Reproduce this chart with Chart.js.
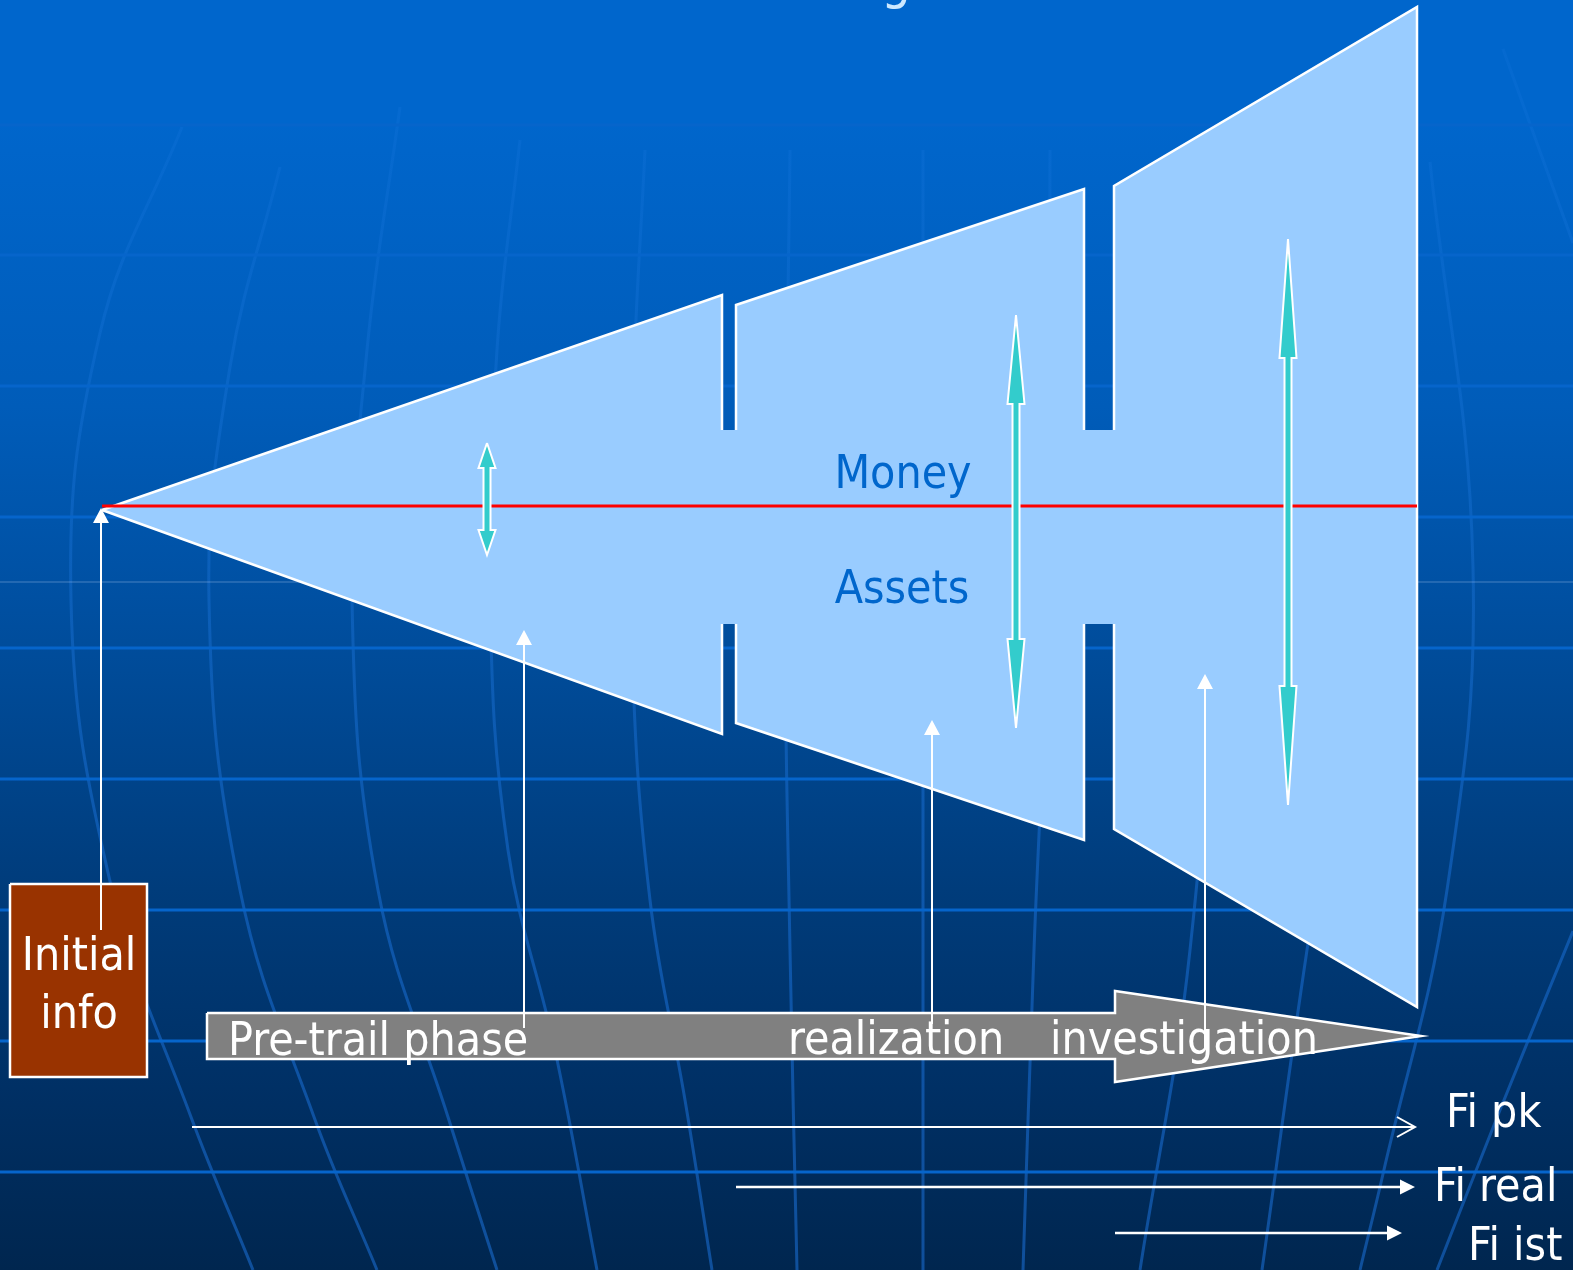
<!DOCTYPE html>
<html><head><meta charset="utf-8">
<script src="https://cdn.jsdelivr.net/npm/chart.js@4/dist/chart.umd.min.js"></script>
<style>html,body{margin:0;padding:0;background:#003366;overflow:hidden}canvas{display:block}</style>
</head><body><canvas id="c" width="1573" height="1270"></canvas>
<script>
// ===== diagram data (diagram units: 0..1573 across, 0..1270 down) =====
const stageNames   = ['Pre-trail phase', 'realization', 'investigation'];
const stageLeftX   = [102, 736, 1114];
const stageRightX  = [722, 1084, 1417];
const stageTopL    = [510, 305, 186];
const stageTopR    = [295, 189, 7];
const stageBotL    = [510, 723, 829];
const stageBotR    = [734, 840, 1007];
const neckY        = [430, 624];
const midLineY     = [506];
const funnelLabels = ['Money', 'Assets'];

const spreadX      = [487, 1016, 1288];
const spreadTop    = [443, 315, 239];
const spreadBottom = [555, 728, 805];
const spreadHead   = [25, 89, 119];

const linkX        = [101, 524, 932, 1205];
const linkFrom     = [930, 1028, 1024, 1048];
const linkTo       = [508, 630, 720, 674];

const reachNames   = ['Fi pk', 'Fi real', 'Fi ist'];
const reachFrom    = [192, 736, 1115];
const reachTo      = [1415, 1415, 1402];
const reachY       = [1127, 1187, 1233];
const reachHead    = ['open', 'filled', 'filled'];

const startLabel   = ['Initial', 'info'];
const startBoxX    = [10, 147];
const startBoxY    = [884, 1077];

const phaseBodyX   = [207, 1115];
const phaseBodyY   = [1013, 1059];
const phaseHeadY   = [991, 1082];
const phaseTip     = [1421, 1036];

const gridRows     = [125, 255, 386, 517, 648, 779, 910, 1041, 1172];
const globeMeridians = [
  [[182,127],[100,333],[71,600],[112,890],[191,1117],[253,1270]],
  [[280,167],[230,367],[209,600],[240,890],[314,1117],[377,1270]],
  [[400,107],[367,350],[352,600],[378,890],[448,1117],[497,1270]],
  [[520,140],[497,350],[490,600],[508,850],[555,1050],[597,1270]],
  [[645,150],[633,400],[632,650],[650,900],[685,1100],[712,1270]],
  [[790,150],[785,600],[790,950],[797,1270]],
  [[923,150],[923,600],[923,950],[923,1270]],
  [[1050,150],[1048,600],[1034,950],[1023,1270]],
  [[1200,150],[1212,600],[1190,950],[1140,1270]],
  [[1330,150],[1362,600],[1307,950],[1262,1270]],
  [[1430,162],[1473,567],[1447,890],[1383,1174],[1360,1270]],
  [[1573,931],[1500,1110],[1437,1270]],
  [[1503,49],[1573,243]]
];

// ===== build datasets =====
const FONT = "'DejaVu Sans Condensed','DejaVu Sans',sans-serif";
const P = a => a.map(([x, y]) => ({x, y}));
const datasets = [];
function add(ds, order) {
  datasets.push(Object.assign({pointRadius: 0, pointHoverRadius: 0, fill: false, tension: 0,
    borderWidth: 0, borderColor: 'rgba(0,0,0,0)', clip: false, order,
    borderJoinStyle: 'miter', borderCapStyle: 'butt'}, ds));
}

// meridian stroke: fainter at the top, clearer lower down
function meridianColor(c) {
  const chart = c.chart, ys = chart.scales && chart.scales.y;
  let y0 = ys ? ys.getPixelForValue(0) : NaN, y1 = ys ? ys.getPixelForValue(1270) : NaN;
  if (!isFinite(y0) || !isFinite(y1)) { y0 = 0; y1 = chart.height || 1270; }
  const g = chart.ctx.createLinearGradient(0, y0, 0, y1);
  g.addColorStop(0, 'rgba(40,130,235,0.10)');
  g.addColorStop(0.35, 'rgba(40,130,235,0.25)');
  g.addColorStop(0.7, 'rgba(30,120,230,0.45)');
  g.addColorStop(1, 'rgba(30,120,230,0.50)');
  return g;
}
globeMeridians.forEach(m => add({data: P(m), borderColor: meridianColor, borderWidth: 3, tension: 0.4}, 100));
// horizontal grid rows
gridRows.forEach(y => add({data: P([[0, y], [1573, y]]), borderColor: '#0665cb', borderWidth: 3}, 95));
add({data: P([[0, 582], [1573, 582]]), borderColor: 'rgba(200,220,255,0.35)', borderWidth: 1}, 94);

// funnel outline
const upperEdge = [], lowerEdge = [];
for (let i = 0; i < 3; i++) {
  upperEdge.push([stageLeftX[i], stageTopL[i]], [stageRightX[i], stageTopR[i]]);
  lowerEdge.push([stageLeftX[i], stageBotL[i]], [stageRightX[i], stageBotR[i]]);
  if (i < 2) {
    upperEdge.push([stageRightX[i], neckY[0]], [stageLeftX[i + 1], neckY[0]]);
    lowerEdge.push([stageRightX[i], neckY[1]], [stageLeftX[i + 1], neckY[1]]);
  }
}
const outline = upperEdge.concat(lowerEdge.slice().reverse());
// fill (one piece)
add({data: P(outline), fill: 'shape', backgroundColor: '#99ccff'}, 81);
// white border, skipping the horizontal neck edges
add({data: P(outline), borderWidth: 2.5, borderColor: '#ffffff',
  segment: {borderColor: c => Math.abs(c.p0.y - c.p1.y) < 0.5 ? 'rgba(0,0,0,0)' : '#ffffff'}}, 80);
// red middle line
add({data: P([[stageLeftX[0], midLineY[0]], [stageRightX[2], midLineY[0]]]), borderColor: '#ff0000', borderWidth: 3}, 70);

// double teal arrows
spreadX.forEach((x, i) => {
  const t = spreadTop[i], b = spreadBottom[i], hl = spreadHead[i], hh = 8.5, sh = 3.5;
  add({data: P([[x, t], [x + hh, t + hl], [x + sh, t + hl], [x + sh, b - hl], [x + hh, b - hl], [x, b],
    [x - hh, b - hl], [x - sh, b - hl], [x - sh, t + hl], [x - hh, t + hl], [x, t]]),
    fill: 'shape', backgroundColor: '#33cccc', borderColor: '#ffffff', borderWidth: 2}, 60);
});

// phase arrow
add({data: P([[phaseBodyX[0], phaseBodyY[0]], [phaseBodyX[1], phaseBodyY[0]], [phaseBodyX[1], phaseHeadY[0]],
  [phaseTip[0], phaseTip[1]], [phaseBodyX[1], phaseHeadY[1]], [phaseBodyX[1], phaseBodyY[1]],
  [phaseBodyX[0], phaseBodyY[1]], [phaseBodyX[0], phaseBodyY[0]]]),
  fill: 'shape', backgroundColor: '#808080', borderColor: '#ffffff', borderWidth: 2.5}, 50);
// initial info box
add({data: P([[startBoxX[0], startBoxY[0]], [startBoxX[1], startBoxY[0]], [startBoxX[1], startBoxY[1]],
  [startBoxX[0], startBoxY[1]], [startBoxX[0], startBoxY[0]]]),
  fill: 'shape', backgroundColor: '#993300', borderColor: '#ffffff', borderWidth: 2.5}, 50);

// white link arrows (upward)
linkX.forEach((x, i) => {
  const hl = 15, hh = 8;
  add({data: P([[x, linkFrom[i]], [x, linkTo[i] + hl]]), borderColor: '#ffffff', borderWidth: 2}, 40);
  add({data: P([[x, linkTo[i]], [x + hh, linkTo[i] + hl], [x - hh, linkTo[i] + hl], [x, linkTo[i]]]),
    fill: 'shape', backgroundColor: '#ffffff'}, 39);
});

// reach arrows (rightward)
reachY.forEach((y, i) => {
  if (reachHead[i] === 'open') {
    add({data: P([[reachFrom[i], y], [reachTo[i], y]]), borderColor: '#ffffff', borderWidth: 2}, 40);
    add({data: P([[reachTo[i] - 18, y - 10], [reachTo[i], y], [reachTo[i] - 18, y + 10]]), borderColor: '#ffffff', borderWidth: 2}, 40);
  } else {
    const hl = 15, hh = 7.5;
    add({data: P([[reachFrom[i], y], [reachTo[i] - hl, y]]), borderColor: '#ffffff', borderWidth: 2.5}, 40);
    add({data: P([[reachTo[i], y], [reachTo[i] - hl, y - hh], [reachTo[i] - hl, y + hh], [reachTo[i], y]]),
      fill: 'shape', backgroundColor: '#ffffff'}, 39);
  }
});

// ===== plugins =====
const backdrop = {
  id: 'backdrop',
  beforeDraw(chart) {
    const {ctx, width, height} = chart;
    const ys = chart.scales.y;
    const g = ctx.createLinearGradient(0, ys.getPixelForValue(0), 0, ys.getPixelForValue(1270));
    g.addColorStop(0, '#0066cc');
    g.addColorStop(0.095, '#0066cc');
    g.addColorStop(0.32, '#005cb9');
    g.addColorStop(0.47, '#0050a2');
    g.addColorStop(0.70, '#003c7b');
    g.addColorStop(0.87, '#002f63');
    g.addColorStop(1, '#00264f');
    ctx.save(); ctx.fillStyle = g; ctx.fillRect(0, 0, width, height); ctx.restore();
  }
};

const labels = {
  id: 'labels',
  afterDatasetsDraw(chart) {
    const {ctx} = chart;
    const X = v => chart.scales.x.getPixelForValue(v);
    const Y = v => chart.scales.y.getPixelForValue(v);
    ctx.save();
    ctx.textBaseline = 'alphabetic';
    ctx.fillStyle = '#cce8ff'; ctx.textAlign = 'center';
    ctx.font = '52px ' + FONT;
    ctx.fillText('g', X(896), Y(-2));
    ctx.fillStyle = '#0066cc'; ctx.font = '46px ' + FONT;
    ctx.fillText(funnelLabels[0], X(903), Y(488));
    ctx.fillText(funnelLabels[1], X(902), Y(603));
    ctx.fillStyle = '#ffffff';
    ctx.fillText(startLabel[0], X(79), Y(970));
    ctx.fillText(startLabel[1], X(79), Y(1028));
    ctx.textAlign = 'left';
    ctx.fillText(stageNames[0], X(228), Y(1055));
    ctx.fillText(stageNames[1], X(788), Y(1054));
    ctx.fillText(stageNames[2], X(1050), Y(1054));
    ctx.fillText(reachNames[0], X(1446), Y(1127));
    ctx.fillText(reachNames[1], X(1434), Y(1201));
    ctx.fillText(reachNames[2], X(1468), Y(1260));
    ctx.restore();
  }
};

new Chart(document.getElementById('c'), {
  type: 'line',
  data: {datasets},
  options: {
    responsive: false, maintainAspectRatio: false, animation: false, events: [],
    layout: {padding: 0},
    plugins: {legend: {display: false}, tooltip: {enabled: false}, title: {display: false}},
    scales: {
      x: {type: 'linear', min: 0, max: 1573, display: false},
      y: {type: 'linear', min: 0, max: 1270, reverse: true, display: false}
    }
  },
  plugins: [backdrop, labels]
});
</script>
</body></html>
